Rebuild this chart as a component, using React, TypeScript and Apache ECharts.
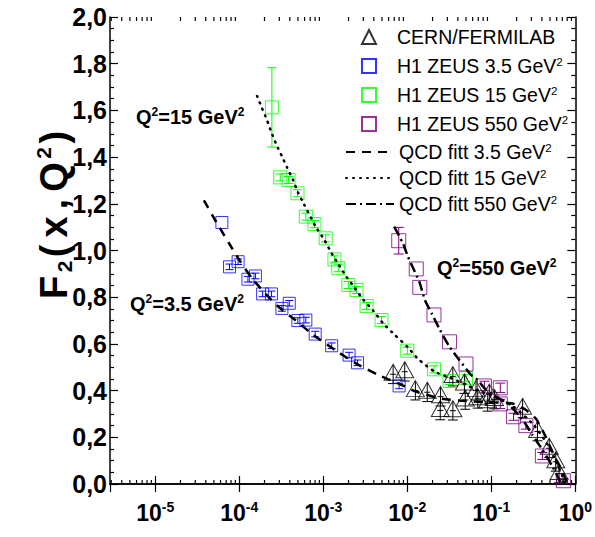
import React, { useEffect, useRef } from 'react';
import * as echarts from 'echarts';

const FONT = 'Arial, "Liberation Sans", Helvetica, sans-serif';

// [x, F2, error]
const cernFermilab: number[][] = [
  [6.79e-3, 0.47, 0.04], [9.33e-3, 0.481, 0.04], [1.25e-2, 0.40, 0.04], [1.73e-2, 0.393, 0.04],
  [2.49e-2, 0.374, 0.04], [2.47e-2, 0.315, 0.04], [3.49e-2, 0.314, 0.04], [3.49e-2, 0.46, 0.04],
  [4.9e-2, 0.36, 0.04], [4.79e-2, 0.428, 0.04], [6.58e-2, 0.40, 0.04], [6.9e-2, 0.365, 0.04],
  [9.06e-2, 0.352, 0.04], [9.48e-2, 0.385, 0.04], [0.109, 0.362, 0.04], [0.236, 0.324, 0.04],
  [0.355, 0.225, 0.04], [0.489, 0.153, 0.04], [0.585, 0.095, 0.04], [0.641, 0.045, 0.04],
];

const h1Zeus35: number[][] = [
  [6.22e-5, 1.12, 0], [7.67e-5, 0.93, 0.012], [9.7e-5, 0.952, 0.012], [1.27e-4, 0.877, 0.012],
  [1.56e-4, 0.891, 0.012], [1.9e-4, 0.814, 0.012], [2.42e-4, 0.814, 0.012], [3.22e-4, 0.752, 0.012],
  [3.94e-4, 0.774, 0.012], [4.99e-4, 0.70, 0.012], [6.21e-4, 0.702, 0.012], [8.02e-4, 0.642, 0.012],
  [1.26e-3, 0.592, 0.012], [2.03e-3, 0.552, 0.012], [2.56e-3, 0.519, 0.012], [8.0e-3, 0.42, 0.012],
];

const h1Zeus15: number[][] = [
  [2.45e-4, 1.613, 0.17], [3.08e-4, 1.313, 0.015], [3.87e-4, 1.302, 0.015], [4.94e-4, 1.245, 0.015],
  [6.21e-4, 1.145, 0.015], [7.87e-4, 1.113, 0.015], [1.07e-3, 1.052, 0.015], [1.36e-3, 0.962, 0.015],
  [1.51e-3, 0.924, 0.015], [1.99e-3, 0.852, 0.015], [2.49e-3, 0.831, 0.015], [3.28e-3, 0.762, 0.015],
  [4.94e-3, 0.702, 0.015], [1.0e-2, 0.571, 0.015], [2.08e-2, 0.491, 0.015], [3.18e-2, 0.441, 0.015],
  [5.0e-2, 0.453, 0.015],
];

const h1Zeus550: number[][] = [
  [7.92e-3, 1.042, 0.057], [1.28e-2, 0.921, 0], [1.41e-2, 0.842, 0], [2.08e-2, 0.724, 0],
  [3.18e-2, 0.609, 0], [5.0e-2, 0.514, 0], [8.28e-2, 0.42, 0.02], [0.128, 0.412, 0.02],
  [0.128, 0.343, 0.02], [0.184, 0.288, 0.015], [0.258, 0.25, 0.015], [0.406, 0.12, 0.015],
  [0.721, 0.014, 0.01],
];

const qcdFit35: number[][] = [
  [3.80e-5, 1.215], [5.37e-5, 1.12], [7.59e-5, 1.03], [1.035e-4, 0.952], [1.41e-4, 0.882],
  [2.12e-4, 0.81], [2.95e-4, 0.758], [4.65e-4, 0.702], [7.66e-4, 0.638], [1.38e-3, 0.574],
  [2.39e-3, 0.519], [4.51e-3, 0.467], [7.94e-3, 0.43], [1.26e-2, 0.396], [2.51e-2, 0.366],
  [5.01e-2, 0.355], [0.1, 0.35], [0.178, 0.345], [0.251, 0.32], [0.339, 0.28], [0.447, 0.2],
  [0.562, 0.12], [0.708, 0.05], [0.803, 0.0],
];

const qcdFit15: number[][] = [
  [1.63e-4, 1.662], [1.87e-4, 1.609], [2.14e-4, 1.559], [2.40e-4, 1.509], [2.75e-4, 1.456],
  [3.24e-4, 1.402], [3.72e-4, 1.355], [4.37e-4, 1.302], [5.01e-4, 1.249], [5.89e-4, 1.199],
  [8.20e-4, 1.10], [1.02e-3, 1.048], [1.23e-3, 0.995], [1.51e-3, 0.942], [1.86e-3, 0.891],
  [2.34e-3, 0.842], [3.02e-3, 0.788], [3.94e-3, 0.742], [5.16e-3, 0.688], [7.11e-3, 0.638],
  [1.0e-2, 0.588], [1.34e-2, 0.536], [2.12e-2, 0.481], [3.33e-2, 0.453], [5.01e-2, 0.425],
  [6.61e-2, 0.403], [0.1, 0.38], [0.178, 0.335], [0.316, 0.255], [0.447, 0.18], [0.631, 0.075],
  [0.759, 0.0],
];

const qcdFit550: number[][] = [
  [6.98e-3, 1.102], [8.91e-3, 1.03], [1.02e-2, 0.973], [1.23e-2, 0.909], [1.41e-2, 0.86],
  [1.62e-2, 0.788], [1.95e-2, 0.731], [2.45e-2, 0.66], [3.18e-2, 0.588], [4.17e-2, 0.531],
  [5.75e-2, 0.467], [6.92e-2, 0.445], [8.32e-2, 0.41], [0.1135, 0.374], [0.155, 0.346],
  [0.195, 0.31], [0.245, 0.267], [0.309, 0.21], [0.407, 0.146], [0.537, 0.074], [0.646, 0.017],
  [0.676, 0.0],
];

const xMajorExponents = [-5, -4, -3, -2, -1, 0];
const xMin = 2.9e-6;
const xMax = 1;

const xMinorTicks: number[] = [];
for (let e = -6; e < 0; e++) {
  for (let m = 2; m <= 9; m++) {
    const v = m * Math.pow(10, e);
    if (v > xMin && v < xMax) xMinorTicks.push(v);
  }
}

const NAMES = {
  cern: 'CERN/FERMILAB',
  h35: 'H1 ZEUS 3.5 GeV²',
  h15: 'H1 ZEUS 15 GeV²',
  h550: 'H1 ZEUS 550 GeV²',
  q35: 'QCD fitt 3.5 GeV²',
  q15: 'QCD fitt 15 GeV²',
  q550: 'QCD fitt 550 GeV²',
};

function errSeries(data: number[][], color: string, cap: number, topCap = true) {
  return {
    type: 'custom',
    data,
    encode: { x: 0, y: 1 },
    silent: true,
    z: 3,
    renderItem: (_p: any, api: any) => {
      const x = api.value(0);
      const y = api.value(1);
      const e = api.value(2);
      if (!e) return { type: 'group', children: [] };
      const c = api.coord([x, y]);
      const t = api.coord([x, y + e]);
      const b = api.coord([x, y - e]);
      const st = { stroke: color, lineWidth: 1 };
      const children: any[] = [
        { type: 'line', shape: { x1: c[0], y1: t[1], x2: c[0], y2: b[1] }, style: st },
        { type: 'line', shape: { x1: c[0] - cap, y1: b[1], x2: c[0] + cap, y2: b[1] }, style: st },
      ];
      if (topCap) {
        children.push({ type: 'line', shape: { x1: c[0] - cap, y1: t[1], x2: c[0] + cap, y2: t[1] }, style: st });
      } else {
        children.push({ type: 'line', shape: { x1: c[0] - cap * 0.6, y1: c[1], x2: c[0] + cap * 0.6, y2: c[1] }, style: st });
      }
      return { type: 'group', children };
    },
  };
}

const axisLineStyle = { color: '#000', width: 1.5 };

const legendFormatter = (name: string) =>
  name.endsWith('²') ? `{n|${name.slice(0, -1)}}{s|2}` : `{n|${name}}`;

export default function App() {
  const ref = useRef<HTMLDivElement>(null);
  useEffect(() => {
    if (!ref.current) return;
    const chart = echarts.init(ref.current, undefined, { renderer: 'svg' });
    const supRich = {
      b: { fontFamily: FONT, fontSize: 20, fontWeight: 'bold', color: '#000', lineHeight: 22 },
      s: { fontFamily: FONT, fontSize: 12, fontWeight: 'bold', color: '#000', lineHeight: 12, verticalAlign: 'top' },
    };
    const legendRich = (pad: number) => ({
      n: { fontFamily: FONT, fontSize: 19.5, color: '#000', lineHeight: 20, padding: [0, 0, 0, pad] },
      s: { fontFamily: FONT, fontSize: 11.5, color: '#000', lineHeight: 11, verticalAlign: 'top' },
    });
    const xAxisCommon = {
      type: 'log',
      logBase: 10,
      min: xMin,
      max: xMax,
      splitLine: { show: false },
      axisLine: { show: true, lineStyle: axisLineStyle },
      axisTick: { show: true, inside: true, length: 8, lineStyle: { color: '#000', width: 1.2 } },
      minorTick: { show: false },
    };
    const yAxisCommon = {
      type: 'value',
      min: 0,
      max: 2,
      interval: 0.2,
      splitLine: { show: false },
      axisLine: { show: true, lineStyle: axisLineStyle },
      axisTick: { show: true, inside: true, length: 8, lineStyle: { color: '#000', width: 1.2 } },
      minorTick: { show: true, splitNumber: 4, length: 4, lineStyle: { color: '#000', width: 1.2 } },
    };
    const hidden = { opacity: 0 };
    const nameTok = { fontFamily: FONT, fontSize: 38, fontWeight: 'bold', fill: '#000', lineHeight: 42, padding: [0, 3.5, 0, 3.5] };
    chart.setOption({
      animation: false,
      backgroundColor: '#fff',
      grid: { left: 110, right: 17, top: 17, bottom: 53 },
      xAxis: [
        {
          ...xAxisCommon,
          position: 'bottom',
          axisLabel: {
            show: true,
            margin: 16,
            showMinLabel: false,
            formatter: (v: number) => {
              const l = Math.log10(v);
              const e = Math.round(l);
              if (Math.abs(l - e) > 1e-6 || xMajorExponents.indexOf(e) < 0) return '';
              return `{b|10}{s|${e}}`;
            },
            rich: {
              b: { fontFamily: FONT, fontSize: 23, fontWeight: 'bold', color: '#000', lineHeight: 26 },
              s: { fontFamily: FONT, fontSize: 14, fontWeight: 'bold', color: '#000', lineHeight: 14, verticalAlign: 'top' },
            },
          },
        },
        { ...xAxisCommon, position: 'top', axisLabel: { show: false } },
      ],
      yAxis: [
        {
          ...yAxisCommon,
          position: 'left',
          axisLabel: {
            show: true,
            margin: 3,
            fontFamily: FONT,
            fontSize: 25,
            fontWeight: 'bold',
            color: '#000',
            formatter: (v: number) => v.toFixed(1).replace('.', ','),
          },
        },
        { ...yAxisCommon, position: 'right', axisLabel: { show: false } },
      ],
      legend: [
        {
          orient: 'vertical',
          left: 361,
          top: 27,
          padding: 0,
          itemWidth: 14,
          itemHeight: 14,
          itemGap: 9,
          data: [NAMES.cern, NAMES.h35, NAMES.h15, NAMES.h550],
          formatter: legendFormatter,
          textStyle: { rich: legendRich(16) },
        },
        {
          orient: 'vertical',
          left: 345,
          top: 142,
          padding: 0,
          itemWidth: 48,
          itemHeight: 14,
          itemGap: 6,
          data: [
            { name: NAMES.q35, itemStyle: hidden },
            { name: NAMES.q15, itemStyle: hidden },
            { name: NAMES.q550, itemStyle: hidden },
          ],
          formatter: legendFormatter,
          textStyle: { rich: legendRich(0) },
        },
      ],
      graphic: [
        {
          type: 'text',
          x: 54,
          y: 215,
          rotation: Math.PI / 2,
          style: {
            text: '{b|F}{sub|2}{b|(}{b|x}{b|,}{b|Q}{sup|2}{b|)}',
            align: 'center',
            verticalAlign: 'middle',
            rich: {
              b: nameTok,
              sub: { fontFamily: FONT, fontSize: 21, fontWeight: 'bold', fill: '#000', lineHeight: 20, verticalAlign: 'bottom' },
              sup: { fontFamily: FONT, fontSize: 21, fontWeight: 'bold', fill: '#000', lineHeight: 20, verticalAlign: 'top' },
            },
          },
        },
        {
          type: 'text', left: 136, top: 106,
          style: { text: '{b|Q}{s|2}{b|=15 GeV}{s|2}', rich: supRich },
        },
        {
          type: 'text', left: 130, top: 293,
          style: { text: '{b|Q}{s|2}{b|=3.5 GeV}{s|2}', rich: supRich },
        },
        {
          type: 'text', left: 437, top: 257,
          style: { text: '{b|Q}{s|2}{b|=550 GeV}{s|2}', rich: supRich },
        },
      ],
      series: [
        {
          type: 'custom',
          data: xMinorTicks.map((v) => [v, 0]),
          encode: { x: 0, y: 1 },
          silent: true,
          z: 1,
          renderItem: (_p: any, api: any) => {
            const v = api.value(0);
            const pb = api.coord([v, 0]);
            const pt = api.coord([v, 2]);
            const st = { stroke: '#000', lineWidth: 1.2 };
            return {
              type: 'group',
              children: [
                { type: 'line', shape: { x1: pb[0], y1: pb[1], x2: pb[0], y2: pb[1] - 4 }, style: st },
                { type: 'line', shape: { x1: pt[0], y1: pt[1], x2: pt[0], y2: pt[1] + 4 }, style: st },
              ],
            };
          },
        },
        errSeries(cernFermilab, '#000', 5, false),
        errSeries(h1Zeus35, '#0000ff', 4),
        errSeries(h1Zeus15, '#00ff00', 4.5),
        errSeries(h1Zeus550, '#800080', 5),
        {
          type: 'scatter', name: NAMES.cern, data: cernFermilab, encode: { x: 0, y: 1 },
          symbol: 'triangle', symbolSize: [18, 16], symbolOffset: [0, -2], z: 4,
          itemStyle: { color: 'rgba(0,0,0,0)', borderColor: '#000', borderWidth: 1 },
        },
        {
          type: 'scatter', name: NAMES.h35, data: h1Zeus35, encode: { x: 0, y: 1 },
          symbol: 'rect', symbolSize: 12, z: 4,
          itemStyle: { color: 'rgba(0,0,0,0)', borderColor: '#0000ff', borderWidth: 1 },
        },
        {
          type: 'scatter', name: NAMES.h15, data: h1Zeus15, encode: { x: 0, y: 1 },
          symbol: 'rect', symbolSize: 13, z: 4,
          itemStyle: { color: 'rgba(0,0,0,0)', borderColor: '#00ff00', borderWidth: 1 },
        },
        {
          type: 'scatter', name: NAMES.h550, data: h1Zeus550, encode: { x: 0, y: 1 },
          symbol: 'rect', symbolSize: 14, z: 4,
          itemStyle: { color: 'rgba(0,0,0,0)', borderColor: '#800080', borderWidth: 1 },
        },
        {
          type: 'line', name: NAMES.q35, data: qcdFit35, symbol: 'none', showSymbol: false, smooth: 0.2, z: 5,
          itemStyle: { color: '#000' },
          lineStyle: { color: '#000', width: 2.5, type: [9, 7] },
        },
        {
          type: 'line', name: NAMES.q15, data: qcdFit15, symbol: 'none', showSymbol: false, smooth: 0.2, z: 5,
          itemStyle: { color: '#000' },
          lineStyle: { color: '#000', width: 2.5, type: [1, 6], cap: 'round' },
        },
        {
          type: 'line', name: NAMES.q550, data: qcdFit550, symbol: 'none', showSymbol: false, smooth: 0.2, z: 5,
          itemStyle: { color: '#000' },
          lineStyle: { color: '#000', width: 2.5, type: [10, 4, 2, 4] },
        },
      ],
    });
    return () => chart.dispose();
  }, []);
  return <div ref={ref} style={{ width: 595, height: 537, position: 'absolute', left: 0, top: 0 }} />;
}
